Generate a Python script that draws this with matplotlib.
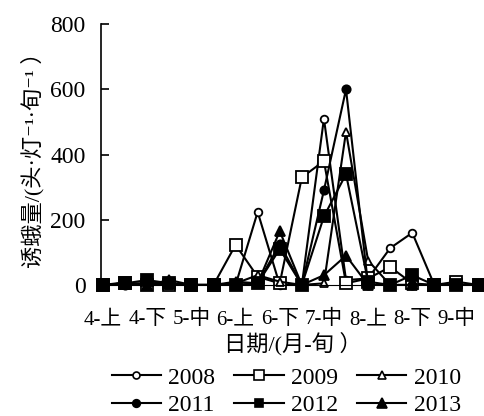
import matplotlib
matplotlib.use("Agg")
import matplotlib.pyplot as plt
from matplotlib.lines import Line2D

plt.rcParams['font.family'] = ['Liberation Serif', 'Noto Sans CJK SC', 'DejaVu Sans']

# dekads (month-旬), April to September
periods = ["4-上", "4-中", "4-下", "5-上", "5-中", "5-下",
           "6-上", "6-中", "6-下", "7-上", "7-中", "7-下",
           "8-上", "8-中", "8-下", "9-上", "9-中", "9-下"]

y2008 = [0, 5, 5, 5, 0, 0, 0, 224, 0, 0, 510, 15, 20, 113, 160, 0, 0, 0]
y2009 = [0, 5, 0, 0, 0, 0, 123, 25, 5, 330, 380, 5, 20, 55, 5, 0, 10, 0]
y2010 = [0, 8, 0, 0, 0, 0, 5, 30, 10, 0, 5, 470, 75, 0, 0, 0, 0, 0]
y2011 = [0, 0, 5, 5, 0, 0, 0, 5, 125, 0, 290, 600, 0, 0, 0, 0, 0, 0]
y2012 = [0, 5, 15, 5, 0, 0, 0, 5, 110, 0, 210, 340, 10, 0, 30, 0, 0, 0]
y2013 = [0, 5, 0, 15, 0, 0, 10, 5, 165, 0, 30, 90, 0, 0, 0, 0, 0, 0]

years = ["2008", "2009", "2010", "2011", "2012", "2013"]
series = [y2008, y2009, y2010, y2011, y2012, y2013]
markers = ["o", "s", "^", "o", "s", "^"]
fills = ["white", "white", "white", "black", "black", "black"]
sizes = [5.5, 8.5, 6, 6, 8.5, 7]
legend_sizes = [5, 7, 5.5, 5.5, 6, 6.5]

fig = plt.figure(figsize=(4.85, 4.16), dpi=100)
ax = fig.add_axes([0.208, 0.315, 0.79, 0.627])

x = list(range(len(periods)))
for name, ys, m, fc, ms in zip(years, series, markers, fills, sizes):
    ax.plot(x, ys, color="black", lw=1.5, marker=m, mfc=fc, mec="black",
            mew=1.3, ms=ms, clip_on=False)

ax.set_xlim(-0.1, 17.25)
ax.set_ylim(0, 800)
ax.set_yticks([0, 200, 400, 600, 800])
ax.set_xticks(x[::2])
ax.set_xticklabels(periods[::2], fontsize=15)
ax.tick_params(axis="x", length=0, pad=18)
ax.tick_params(axis="y", direction="in", length=6, width=1.2, labelsize=17, pad=11)
for s in ["top", "right"]:
    ax.spines[s].set_visible(False)
ax.spines["left"].set_linewidth(1.2)
ax.spines["bottom"].set_linewidth(0.8)

ax.set_ylabel("诱蛾量/(头·灯⁻¹·旬⁻¹ ）", fontsize=16, labelpad=4)
ax.set_xlabel("日期/(月-旬 ）", fontsize=16, labelpad=2)

# legend proxies with smaller markers, filled column by column
handles = [Line2D([], [], color="black", lw=1.5, marker=m, mfc=fc,
                  mec="black", mew=1.2, ms=ms)
           for m, fc, ms in zip(markers, fills, legend_sizes)]
order = [0, 3, 1, 4, 2, 5]
fig.legend([handles[i] for i in order], [years[i] for i in order],
           ncol=3, loc="upper center", bbox_to_anchor=(0.59, 0.14),
           frameon=False, fontsize=17, handlelength=2.1, handletextpad=0.3,
           columnspacing=0.8, labelspacing=0.25, borderaxespad=0)

fig.savefig("out.png", dpi=100)
